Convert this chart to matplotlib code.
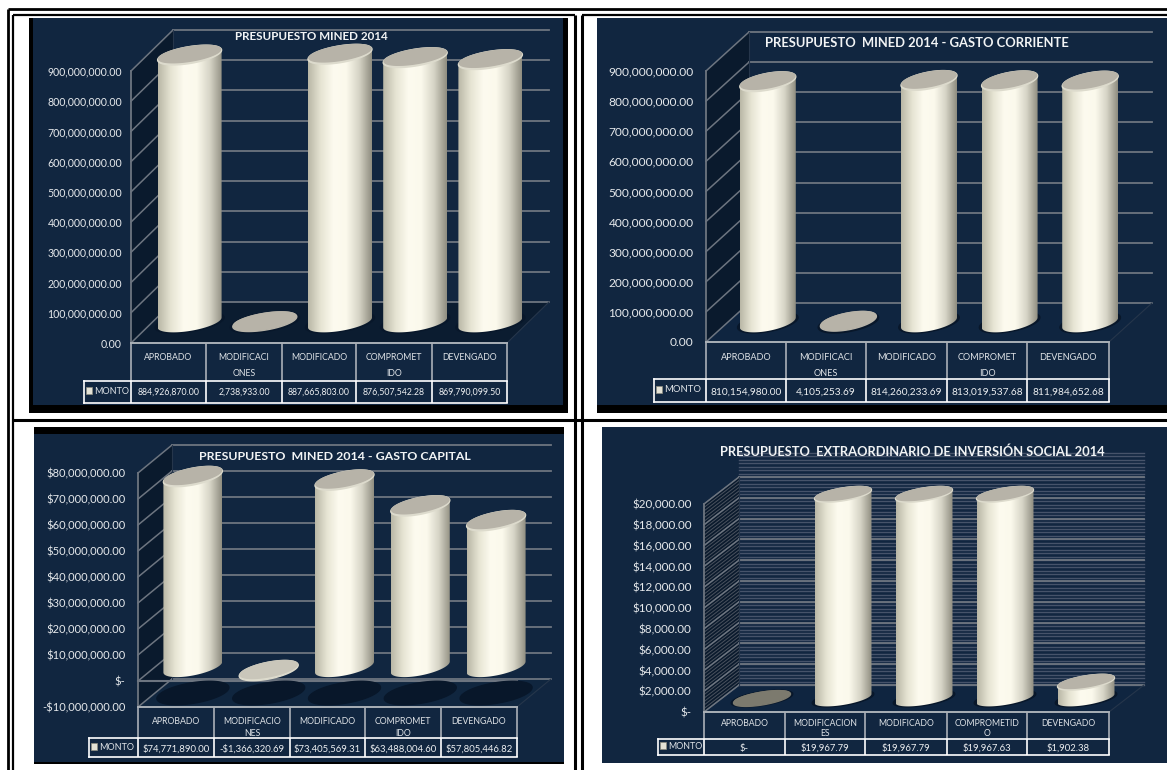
import numpy as np
import matplotlib
matplotlib.use('Agg')
import matplotlib.pyplot as plt
from matplotlib.colors import LinearSegmentedColormap
from matplotlib.patches import Polygon, Rectangle

W, H = 1167, 770
plt.rcParams['font.family'] = ['Lato', 'DejaVu Sans']

# Data
titles = ['PRESUPUESTO MINED 2014',
          'PRESUPUESTO  MINED 2014 - GASTO CORRIENTE',
          'PRESUPUESTO  MINED 2014 - GASTO CAPITAL',
          'PRESUPUESTO  EXTRAORDINARIO DE INVERSIÓN SOCIAL 2014']

cats_1 = ['APROBADO', 'MODIFICACI\nONES', 'MODIFICADO', 'COMPROMET\nIDO', 'DEVENGADO']
cats_2 = ['APROBADO', 'MODIFICACI\nONES', 'MODIFICADO', 'COMPROMET\nIDO', 'DEVENGADO']
cats_3 = ['APROBADO', 'MODIFICACIO\nNES', 'MODIFICADO', 'COMPROMET\nIDO', 'DEVENGADO']
cats_4 = ['APROBADO', 'MODIFICACION\nES', 'MODIFICADO', 'COMPROMETID\nO', 'DEVENGADO']

vals_1 = [884926870.00, 2738933.00, 887665803.00, 876507542.28, 869790099.50]
vals_2 = [810154980.00, 4105253.69, 814260233.69, 813019537.68, 811984652.68]
vals_3 = [74771890.00, -1366320.69, 73405569.31, 63488004.60, 57805446.82]
vals_4 = [0.0, 19967.79, 19967.79, 19967.63, 1902.38]

labels_1 = ['884,926,870.00', '2,738,933.00', '887,665,803.00', '876,507,542.28', '869,790,099.50']
labels_2 = ['810,154,980.00', '4,105,253.69', '814,260,233.69', '813,019,537.68', '811,984,652.68']
labels_3 = ['$74,771,890.00', '-$1,366,320.69', '$73,405,569.31', '$63,488,004.60', '$57,805,446.82']
labels_4 = ['$-', '$19,967.79', '$19,967.79', '$19,967.63', '$1,902.38']

ticks_1 = [0, 1e8, 2e8, 3e8, 4e8, 5e8, 6e8, 7e8, 8e8, 9e8]
ticks_3 = [-1e7, 0, 1e7, 2e7, 3e7, 4e7, 5e7, 6e7, 7e7, 8e7]
ticks_4 = [0, 2000, 4000, 6000, 8000, 10000, 12000, 14000, 16000, 18000, 20000]
ticklabels_1 = ['0.00', '100,000,000.00', '200,000,000.00', '300,000,000.00', '400,000,000.00',
                '500,000,000.00', '600,000,000.00', '700,000,000.00', '800,000,000.00', '900,000,000.00']
ticklabels_3 = ['-$10,000,000.00', '$-', '$10,000,000.00', '$20,000,000.00', '$30,000,000.00',
                '$40,000,000.00', '$50,000,000.00', '$60,000,000.00', '$70,000,000.00', '$80,000,000.00']
ticklabels_4 = ['$-', '$2,000.00', '$4,000.00', '$6,000.00', '$8,000.00', '$10,000.00',
                '$12,000.00', '$14,000.00', '$16,000.00', '$18,000.00', '$20,000.00']

legend_name = 'MONTO'

# Colours
NAVY = '#112640'
WALL = '#0a1a2d'
GRID = '#6d7580'
TOP = '#b7b3a8'
RIM = '#dddbcd'
cyl_cmap = LinearSegmentedColormap.from_list(
    'cyl', ['#b9b7a6', '#e6e4d3', '#fdfbef', '#fbf9ec', '#d6d4c6', '#8f8d80'])


fig = plt.figure(figsize=(W / 100, H / 100), dpi=100, facecolor='white')

# Pixel space layers for the page frame and the tables
bg = fig.add_axes([0, 0, 1, 1], zorder=0)
bg.set_xlim(0, W)
bg.set_ylim(H, 0)
bg.axis('off')
top = fig.add_axes([0, 0, 1, 1], zorder=3)
top.set_xlim(0, W)
top.set_ylim(H, 0)
top.axis('off')
top.patch.set_visible(False)


def draw_panel(cats, vals, labels, ticks, ticklabels, title, box, shadow, front, depth,
               edges, rows, label_ys, legend_left, cyl_w, ell, top_frac, sizes, title_pos,
               floor_col, minor_step=None):
    x0, x1, y_bottom, y_top = front
    dx_px, dy_px = depth
    vmin, vmax = ticks[0], ticks[-1]
    sx = 5 / (x1 - x0)
    sy = (vmax - vmin) / (y_bottom - y_top)
    dx, dy = dx_px * sx, dy_px * sy

    # Navy card with its black shadow bands
    for b in shadow:
        bg.add_patch(Rectangle((b[0], b[1]), b[2] - b[0], b[3] - b[1], fc='black', ec='none'))
    bg.add_patch(Rectangle((box[0], box[1]), box[2] - box[0], box[3] - box[1], fc=NAVY, ec='none'))

    ax = fig.add_axes([x0 / W, 1 - y_bottom / H, (x1 - x0) / W, (y_bottom - y_top) / H], zorder=1)
    ax.patch.set_visible(False)
    for s in ax.spines.values():
        s.set_visible(False)

    # Floor and left wall
    ax.add_patch(Polygon([(0, vmin), (5, vmin), (5 + dx, vmin + dy), (dx, vmin + dy)],
                         fc=floor_col, ec='none', clip_on=False, zorder=1))
    ax.add_patch(Polygon([(0, vmin), (0, vmax), (dx, vmax + dy), (dx, vmin + dy)],
                         fc=WALL, ec='none', clip_on=False, zorder=1))

    # Gridlines on the walls
    if minor_step:
        for v in np.arange(vmin, vmax + dy, minor_step):
            ax.plot([dx, 5 + dx], [v + dy, v + dy], color='#46536a', lw=1.0, clip_on=False, zorder=2)
            if v <= vmax:
                ax.plot([0, dx], [v, v + dy], color='#4a525e', lw=0.7, clip_on=False, zorder=2)
    for t in ticks:
        ax.plot([dx, 5 + dx], [t + dy, t + dy], color=GRID, lw=1.3, clip_on=False, zorder=2)
        ax.plot([0, dx], [t, t + dy], color=GRID, lw=1.1, clip_on=False, zorder=2)
    ax.plot([0, 0], [vmin, vmax], color=GRID, lw=1.3, clip_on=False, zorder=2)
    ax.plot([dx, dx], [vmin + dy, vmax + dy], color='#26364b', lw=0.8, clip_on=False, zorder=2)
    ax.plot([5, 5 + dx], [vmin, vmin + dy], color='#26364b', lw=0.8, clip_on=False, zorder=2)
    if vmin < 0:
        ax.plot([0, 5], [0, 0], color=GRID, lw=1.5, clip_on=False, zorder=2)

    # Cylinders
    b, s = ell[0] * sy, ell[1] * sy
    a = cyl_w / 2 * sx
    t = np.linspace(0, 2 * np.pi, 120)
    half = np.linspace(np.pi, 2 * np.pi, 60)
    blob = 1.22 if vmin < 0 else 1.08
    for i, v in enumerate(vals):
        cx = i + 0.5 + dx / 2
        base = vmin + dy / 2 if vmin == 0 else dy / 2
        height_px = abs(v) / sy
        top_y = v + (dy * top_frac if height_px > 5 else dy / 2)

        # shadow on the floor
        ax.fill(cx + blob * a * np.cos(t), vmin + dy / 2 + blob * b * np.sin(t) + s * np.cos(t),
                color='#08172a', clip_on=False, zorder=3)

        if height_px > 5:
            xs = np.r_[cx + a * np.cos(half), cx + a, cx - a]
            ys = np.r_[base + b * np.sin(half) + s * np.cos(half), top_y + s, top_y - s]
            side = Polygon(np.c_[xs, ys], fc='none', ec='none', zorder=4)
            ax.add_patch(side)
            im = ax.imshow(np.linspace(0, 1, 256).reshape(1, -1), cmap=cyl_cmap, aspect='auto',
                           extent=[cx - a, cx + a, base - 2 * b - abs(s), top_y + abs(s)], zorder=4)
            im.set_clip_box(fig.bbox)
            im.set_clip_path(side)

        col = TOP
        if v == 0:
            col = '#7c7a6e'
        ax.fill(cx + a * np.cos(t), top_y + b * np.sin(t) + s * np.cos(t),
                color=RIM if v < 0 or height_px > 5 else col, clip_on=False, zorder=5)
        ax.fill(cx + 0.97 * a * np.cos(t), top_y + 0.12 * b + 0.86 * b * np.sin(t) + 0.95 * s * np.cos(t),
                color=col if v >= 0 else '#c9c6ba', clip_on=False, zorder=6)

    ax.set_xlim(0, 5)
    ax.set_ylim(vmin, vmax)
    ax.set_xticks([])
    ax.set_yticks(ticks)
    ax.set_yticklabels(ticklabels, fontsize=sizes[0], color='#e6e9ec')
    ax.tick_params(axis='y', length=0, pad=sizes[4])

    # Table under the chart
    cat_col = '#aab0b7'
    for e in edges:
        top.plot([e, e], [rows[0], rows[1]], color=cat_col, lw=1.2, solid_capstyle='butt')
    top.plot([edges[0], edges[-1]], [rows[0], rows[0]], color=cat_col, lw=1.4)
    for e in edges:
        top.plot([e, e], [rows[1], rows[2]], color='white', lw=1.2, solid_capstyle='butt')
    top.plot([legend_left, legend_left], [rows[1], rows[2]], color='white', lw=1.2)
    top.plot([legend_left, edges[-1]], [rows[1], rows[1]], color='white', lw=1.2)
    top.plot([legend_left, edges[-1]], [rows[2], rows[2]], color='white', lw=1.2)
    for i, c in enumerate(cats):
        xc = (edges[i] + edges[i + 1]) / 2
        for line, yy in zip(c.split('\n'), label_ys[:2]):
            top.text(xc, yy, line, ha='center', va='center', fontsize=sizes[1], color='#dfe3e7')
        top.text(xc, label_ys[2], labels[i], ha='center', va='center', fontsize=sizes[2], color='#eef0f2')
    ym = (rows[1] + rows[2]) / 2
    top.add_patch(Rectangle((legend_left + 2, ym - 5), 6, 7, fc='#e4e2d6', ec='#8f8d80', lw=0.5))
    top.text(legend_left + 10.5, ym - 0.5, legend_name, ha='left', va='center', fontsize=sizes[1] + 0.2, color='#dfe3e7')

    top.text(title_pos[0], title_pos[1], title, ha='center', va='center', fontsize=sizes[3],
             fontweight='bold', color='#f2f4f5')


draw_panel(cats_1, vals_1, labels_1, ticks_1, ticklabels_1, titles[0],
           box=(32.5, 18, 563, 405), shadow=[(28.5, 18, 568, 413)],
           front=(131, 507, 343, 71), depth=(42, 41),
           edges=[131, 206, 282, 356, 432, 507], rows=(343, 381, 403), label_ys=(358, 373, 392.5),
           legend_left=84, cyl_w=64, ell=(8.5, 5), top_frac=0.5,
           sizes=(7.6, 6.3, 6.3, 8.4, 6.5), title_pos=(311, 36), floor_col='#0b1c30')

draw_panel(cats_2, vals_2, labels_2, ticks_1, ticklabels_1, titles[1],
           box=(597, 18, 1167, 405), shadow=[(597, 405, 1167, 413)],
           front=(706, 1109, 342, 71), depth=(43, 39),
           edges=[706, 786, 866, 947, 1027, 1109], rows=(342, 379, 402), label_ys=(357, 373, 392.5),
           legend_left=654, cyl_w=56, ell=(8.5, 5), top_frac=0.42,
           sizes=(8.6, 6.6, 7.3, 9.4, 9), title_pos=(917, 43), floor_col='#0f2540')

draw_panel(cats_3, vals_3, labels_3, ticks_3, ticklabels_3, titles[2],
           box=(34, 434, 564, 762), shadow=[(34, 427, 564, 434), (34, 762, 564, 764)],
           front=(138, 517, 707, 473), depth=(34, 28),
           edges=[138, 214, 290, 365, 441, 517], rows=(707, 738, 757), label_ys=(721, 733, 749),
           legend_left=89, cyl_w=59, ell=(8.5, 5.5), top_frac=0.36,
           sizes=(8.0, 6.3, 6.8, 8.9, 9), title_pos=(335, 457), floor_col='#10263f')

draw_panel(cats_4, vals_4, labels_4, ticks_4, ticklabels_4, titles[3],
           box=(602, 427, 1167, 763), shadow=[],
           front=(704, 1109, 712, 504), depth=(35, 27),
           edges=[704, 785, 865, 947, 1027, 1109], rows=(712, 739, 755), label_ys=(723, 733, 748),
           legend_left=658, cyl_w=57, ell=(6.5, 4.5), top_frac=0.37,
           sizes=(8.4, 6.2, 6.8, 9.25, 9), title_pos=(912, 452), floor_col='#0f2540',
           minor_step=2000 / 6)

# Page frame
frame = [([8.3, 1167], [9, 9], 2), ([8.3, 8.3], [9, 770], 2),
         ([13.2, 575], [15, 15], 1.6), ([582, 1167], [15, 15], 1.6),
         ([13.2, 13.2], [15, 770], 1.6), ([574.8, 574.8], [15, 770], 2.2), ([582, 582], [15, 770], 2.2),
         ([13.2, 1167], [420, 420], 2.2)]
for xs, ys, lw in frame:
    top.plot(xs, ys, color='black', lw=lw, solid_capstyle='butt')

fig.savefig('out.png', dpi=100)
